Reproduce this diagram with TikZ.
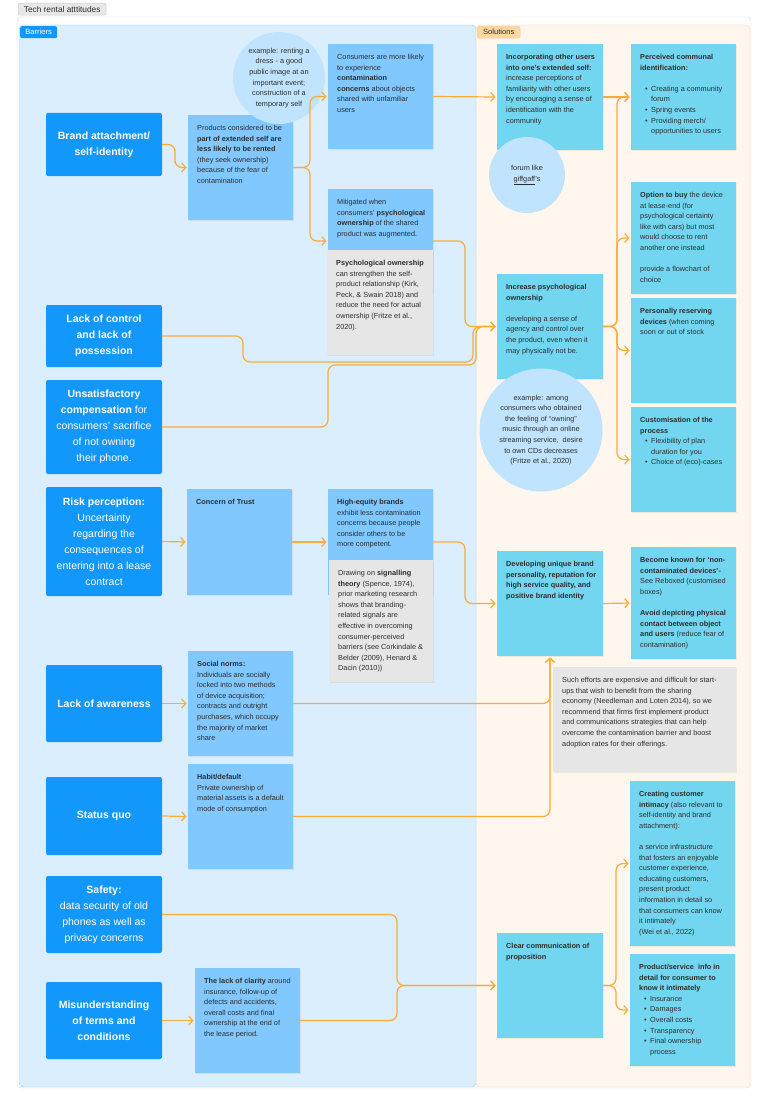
\documentclass[tikz,border=0pt]{standalone}
\usepackage{fontspec}
\setmainfont{Liberation Sans}
\usetikzlibrary{arrows.meta,calc,shadows}
\definecolor{barblue}{RGB}{18,151,250}
\definecolor{midblue}{RGB}{128,200,255}
\definecolor{solcyan}{RGB}{115,214,240}
\definecolor{graycard}{RGB}{230,230,230}
\definecolor{circblue}{RGB}{192,228,253}
\definecolor{barpanel}{RGB}{219,238,253}
\definecolor{barline}{RGB}{160,210,245}
\definecolor{solpanel}{RGB}{255,246,238}
\definecolor{solline}{RGB}{252,220,185}
\definecolor{arrowor}{RGB}{251,172,55}
\definecolor{txt}{RGB}{45,45,45}
\definecolor{tagor}{RGB}{253,215,160}
\newcommand\mkcard[7]{%
  \node[#1, minimum width={(#5-#3)*1pt}, minimum height={(#6-#4)*1pt}] (#2) at (#3,#4) {};
  \node[ctext] at ([xshift=9pt,yshift=-10pt]#2.north west) {#7};}
\newcommand\mkbar[4]{%
  \node[barcard, minimum width=116pt, minimum height={(#3-#2)*1pt}] (#1) at (46,#2) {};
  \node[btext] at (#1.center) {#4};}
\newcommand\bitem[1]{\makebox[11pt][l]{\hspace{5pt}\textbullet}#1}
\newcommand\bcont[1]{\hspace*{11pt}#1}
\tikzset{
  card/.style={inner sep=0pt, outer sep=0pt, anchor=north west, draw=none},
  shad/.style={drop shadow={opacity=0.12, shadow xshift=0.6pt, shadow yshift=-1.2pt}},
  barcard/.style={card, fill=barblue, rounded corners=2pt},
  midcard/.style={card, shad, fill=midblue},
  solcard/.style={card, shad, fill=solcyan},
  greycard/.style={card, shad, fill=graycard},
  ctext/.style={anchor=north west, inner sep=0pt, align=left, font=\fontsize{7.3}{10.6}\selectfont, text=txt},
  btext/.style={align=center, text=white, font=\fontsize{10.5}{16}\selectfont, inner sep=0pt},
  circ/.style={circle, fill=circblue, inner sep=0pt, draw=none},
  circtext/.style={align=center, inner sep=0pt, font=\fontsize{7.3}{10.6}\selectfont, text=txt},
  conn/.style={draw=arrowor, line width=1.2pt, rounded corners=7pt, -{Straight Barb[length=4pt,width=9pt]}, shorten >=1.5pt},
  tag/.style={anchor=north west, inner sep=0pt, rounded corners=2pt, font=\fontsize{7.6}{8}\selectfont, minimum height=12pt}
}
\begin{document}
\begin{tikzpicture}[x=1pt,y=-1pt]
\useasboundingbox (0,0) rectangle (768,1105);
\fill[white] (0,0) rectangle (768,1105);
% title
\node[tag, fill=black!9, draw=black!20, text=txt, minimum width=88pt, font=\fontsize{8.3}{9}\selectfont] (title) at (18,3) {Tech rental atttitudes};
% frames
\draw[draw=black!15, fill=white, rounded corners=4pt] (17,17) rectangle (751,1088);
\draw[solline, fill=solpanel, rounded corners=4pt] (476,25) rectangle (750,1087);
\draw[barline, fill=barpanel, rounded corners=4pt] (19,25) rectangle (476,1087);
\node[tag, fill=barblue, text=white, minimum width=37pt] (bartag) at (20,26) {Barriers};
\node[tag, fill=tagor, draw=orange!40, text=txt, minimum width=43pt] (soltag) at (477,26) {Solutions};

% barrier boxes
\mkbar{brand}{113}{176}{\textbf{Brand attachment/}\\\textbf{self-identity}}
\mkbar{lackctrl}{305}{367}{\textbf{Lack of control}\\\textbf{and lack of}\\\textbf{possession}}
\mkbar{unsat}{380}{474}{\textbf{Unsatisfactory}\\\textbf{compensation} for\\consumers’ sacrifice\\of not owning\\their phone.}
\mkbar{risk}{487}{596}{\textbf{Risk perception:}\\Uncertainty\\regarding the\\consequences of\\entering into a lease\\contract}
\mkbar{aware}{665}{742}{\textbf{Lack of awareness}}
\mkbar{statusq}{777}{855}{\textbf{Status quo}}
\mkbar{safety}{876}{953}{\textbf{Safety:}\\data security of old\\phones as well as\\privacy concerns}
\mkbar{misund}{982}{1059}{\textbf{Misunderstanding}\\\textbf{of terms and}\\\textbf{conditions}}

% middle column
\mkcard{midcard}{prod}{188}{115}{293}{220}{Products considered to be\\\textbf{part of extended self are}\\\textbf{less likely to be rented}\\(they seek ownership)\\because of the fear of\\contamination}
\mkcard{midcard}{trust}{187}{489}{292}{595}{\textbf{Concern of Trust}}
\mkcard{midcard}{social}{188}{651}{293}{756}{\textbf{Social norms:}\\Individuals are socially\\locked into two methods\\of device acquisition;\\contracts and outright\\purchases, which occupy\\the majority of market\\share}
\mkcard{midcard}{habit}{188}{764}{293}{869}{\textbf{Habit/default}\\Private ownership of\\material assets is a default\\mode of consumption}
\mkcard{midcard}{clarity}{195}{968}{300}{1073}{\textbf{The lack of clarity} around\\insurance, follow-up of\\defects and accidents,\\overall costs and final\\ownership at the end of\\the lease period.}

% third column
\mkcard{midcard}{cons}{328}{44}{433}{149}{Consumers are more likely\\to experience\\\textbf{contamination}\\\textbf{concerns} about objects\\shared with unfamiliar\\users}
\mkcard{midcard}{mitig}{328}{189}{433}{293}{Mitigated when\\consumers’ \textbf{psychological}\\\textbf{ownership} of the shared\\product was augmented.}
\mkcard{greycard}{grayA}{327}{250}{433}{355}{\textbf{Psychological ownership}\\can strengthen the self-\\product relationship (Kirk,\\Peck, \& Swain 2018) and\\reduce the need for actual\\ownership (Fritze et al.,\\2020).}
\mkcard{midcard}{heq}{328}{489}{433}{595}{\textbf{High-equity brands}\\exhibit less contamination\\concerns because people\\consider others to be\\more competent.}
\mkcard{greycard}{grayB}{329}{560}{433}{682}{Drawing on \textbf{signalling}\\\textbf{theory} (Spence, 1974),\\prior marketing research\\shows that branding-\\related signals are\\effective in overcoming\\consumer-perceived\\barriers (see Corkindale \&\\Belder (2009), Henard \&\\Dacin (2010))}

% solutions column A
\mkcard{solcard}{inc}{497}{44}{603}{150}{\textbf{Incorporating other users}\\\textbf{into one’s extended self:}\\increase perceptions of\\familiarity with other users\\by encouraging a sense of\\identification with the\\community}
\mkcard{solcard}{incpsy}{497}{274}{603}{379}{\textbf{Increase psychological}\\\textbf{ownership}\\[10.6pt]developing a sense of\\agency and control over\\the product, even when it\\may physically not be.}
\mkcard{solcard}{dev}{497}{551}{603}{656}{\textbf{Developing unique brand}\\\textbf{personality, reputation for}\\\textbf{high service quality, and}\\\textbf{positive brand identity}}
\mkcard{solcard}{clear}{497}{933}{603}{1038}{\textbf{Clear communication of}\\\textbf{proposition}}
\mkcard{greycard}{effort}{553}{667}{736}{772}{Such efforts are expensive and difficult for start-\\ups that wish to benefit from the sharing\\economy (Needleman and Loten 2014), so we\\recommend that firms first implement product\\and communications strategies that can help\\overcome the contamination barrier and boost\\adoption rates for their offerings.}

% solutions column B
\mkcard{solcard}{perc}{631}{44}{736}{150}{\textbf{Perceived communal}\\\textbf{identification:}\\[10.6pt]\bitem{Creating a community}\\\bcont{forum}\\\bitem{Spring events}\\\bitem{Providing merch/}\\\bcont{opportunities to users}}
\mkcard{solcard}{option}{631}{182}{736}{294}{\textbf{Option to buy} the device\\at lease-end (for\\psychological certainty\\like with cars) but most\\would choose to rent\\another one instead\\[10.6pt]provide a flowchart of\\choice}
\mkcard{solcard}{reserve}{631}{298}{736}{403}{\textbf{Personally reserving}\\\textbf{devices} (when coming\\soon or out of stock}
\mkcard{solcard}{custom}{631}{407}{736}{512}{\textbf{Customisation of the}\\\textbf{process}\\\bitem{Flexibility of plan}\\\bcont{duration for you}\\\bitem{Choice of (eco)-cases}}
\mkcard{solcard}{become}{631}{547}{736}{659}{\textbf{Become known for ‘non-}\\\textbf{contaminated devices’-}\\See Reboxed (customised\\boxes)\\[10.6pt]\textbf{Avoid depicting physical}\\\textbf{contact between object}\\\textbf{and users} (reduce fear of\\contamination)}
\mkcard{solcard}{intim}{630}{781}{735}{946}{\textbf{Creating customer}\\\textbf{intimacy} (also relevant to\\self-identity and brand\\attachment):\\[10.6pt]a service infrastructure\\that fosters an enjoyable\\customer experience,\\educating customers,\\present product\\information in detail so\\that consumers can know\\it intimately\\(Wei et al., 2022)}
\mkcard{solcard}{pinfo}{630}{954}{735}{1066}{\textbf{Product/service\ \ info in}\\\textbf{detail for consumer to}\\\textbf{know it intimately}\\\bitem{Insurance}\\\bitem{Damages}\\\bitem{Overall costs}\\\bitem{Transparency}\\\bitem{Final ownership}\\\bcont{process}}

% circles
\node[circ, minimum size=92pt] (cdress) at (279,78) {};
\node[circtext] at (cdress) {example: renting a\\dress - a good\\public image at an\\important event;\\construction of a\\temporary self};
\node[circ, minimum size=76pt] (cforum) at (527,175) {};
\node[circtext] at (cforum) {forum like\\\underline{giffgaff}’s};
\node[circ, minimum size=123pt] (cmusic) at (541,430) {};
\node[circtext] at (cmusic) {example: among\\consumers who obtained\\the feeling of “owning”\\music through an online\\streaming service,\ \ desire\\to own CDs decreases\\(Fritze et al., 2020)};

% connectors
\draw[conn] (brand.east) -| ($(brand.east)!0.5!(prod.west)$) |- (prod.west);
\draw[conn] (prod.east) -- ++(17,0) |- (cons.west);
\draw[conn] (prod.east) -- ++(17,0) |- (mitig.west);
\draw[conn] (cons.east) -- (inc.west);
\draw[conn] (mitig.east) -| (465,284) |- (incpsy.west);
\draw[conn] (lackctrl.east) -| (243,362) -- (473,362) |- (incpsy.west);
\draw[conn] (unsat.east) -| (328,365) -- (476,365) |- (incpsy.west);
\draw[conn] (risk.east) -- (trust.west);
\draw[conn] (trust.east) -- (heq.west);
\draw[conn] (heq.east) -| (465,572) |- (dev.west);
\draw[conn] (dev.east) -- (become.west);
\draw[conn] (aware.east) -- (social.west);
\draw[conn] (social.east) -| (dev.south);
\draw[conn] (statusq.east) -- (habit.west);
\draw[conn] (habit.east) -| (dev.south);
\draw[conn] (safety.east) -| (397,950) |- (clear.west);
\draw[conn] (misund.east) -- (clarity.west);
\draw[conn] (clarity.east) -| (397,1000) |- (clear.west);
\draw[conn] (inc.east) -- (perc.west);
\foreach \t in {perc,option,reserve,custom} \draw[conn] (incpsy.east) -- ++(14,0) |- (\t.west);
\foreach \t in {intim,pinfo} \draw[conn] (clear.east) -- ++(13,0) |- (\t.west);
\end{tikzpicture}
\end{document}
